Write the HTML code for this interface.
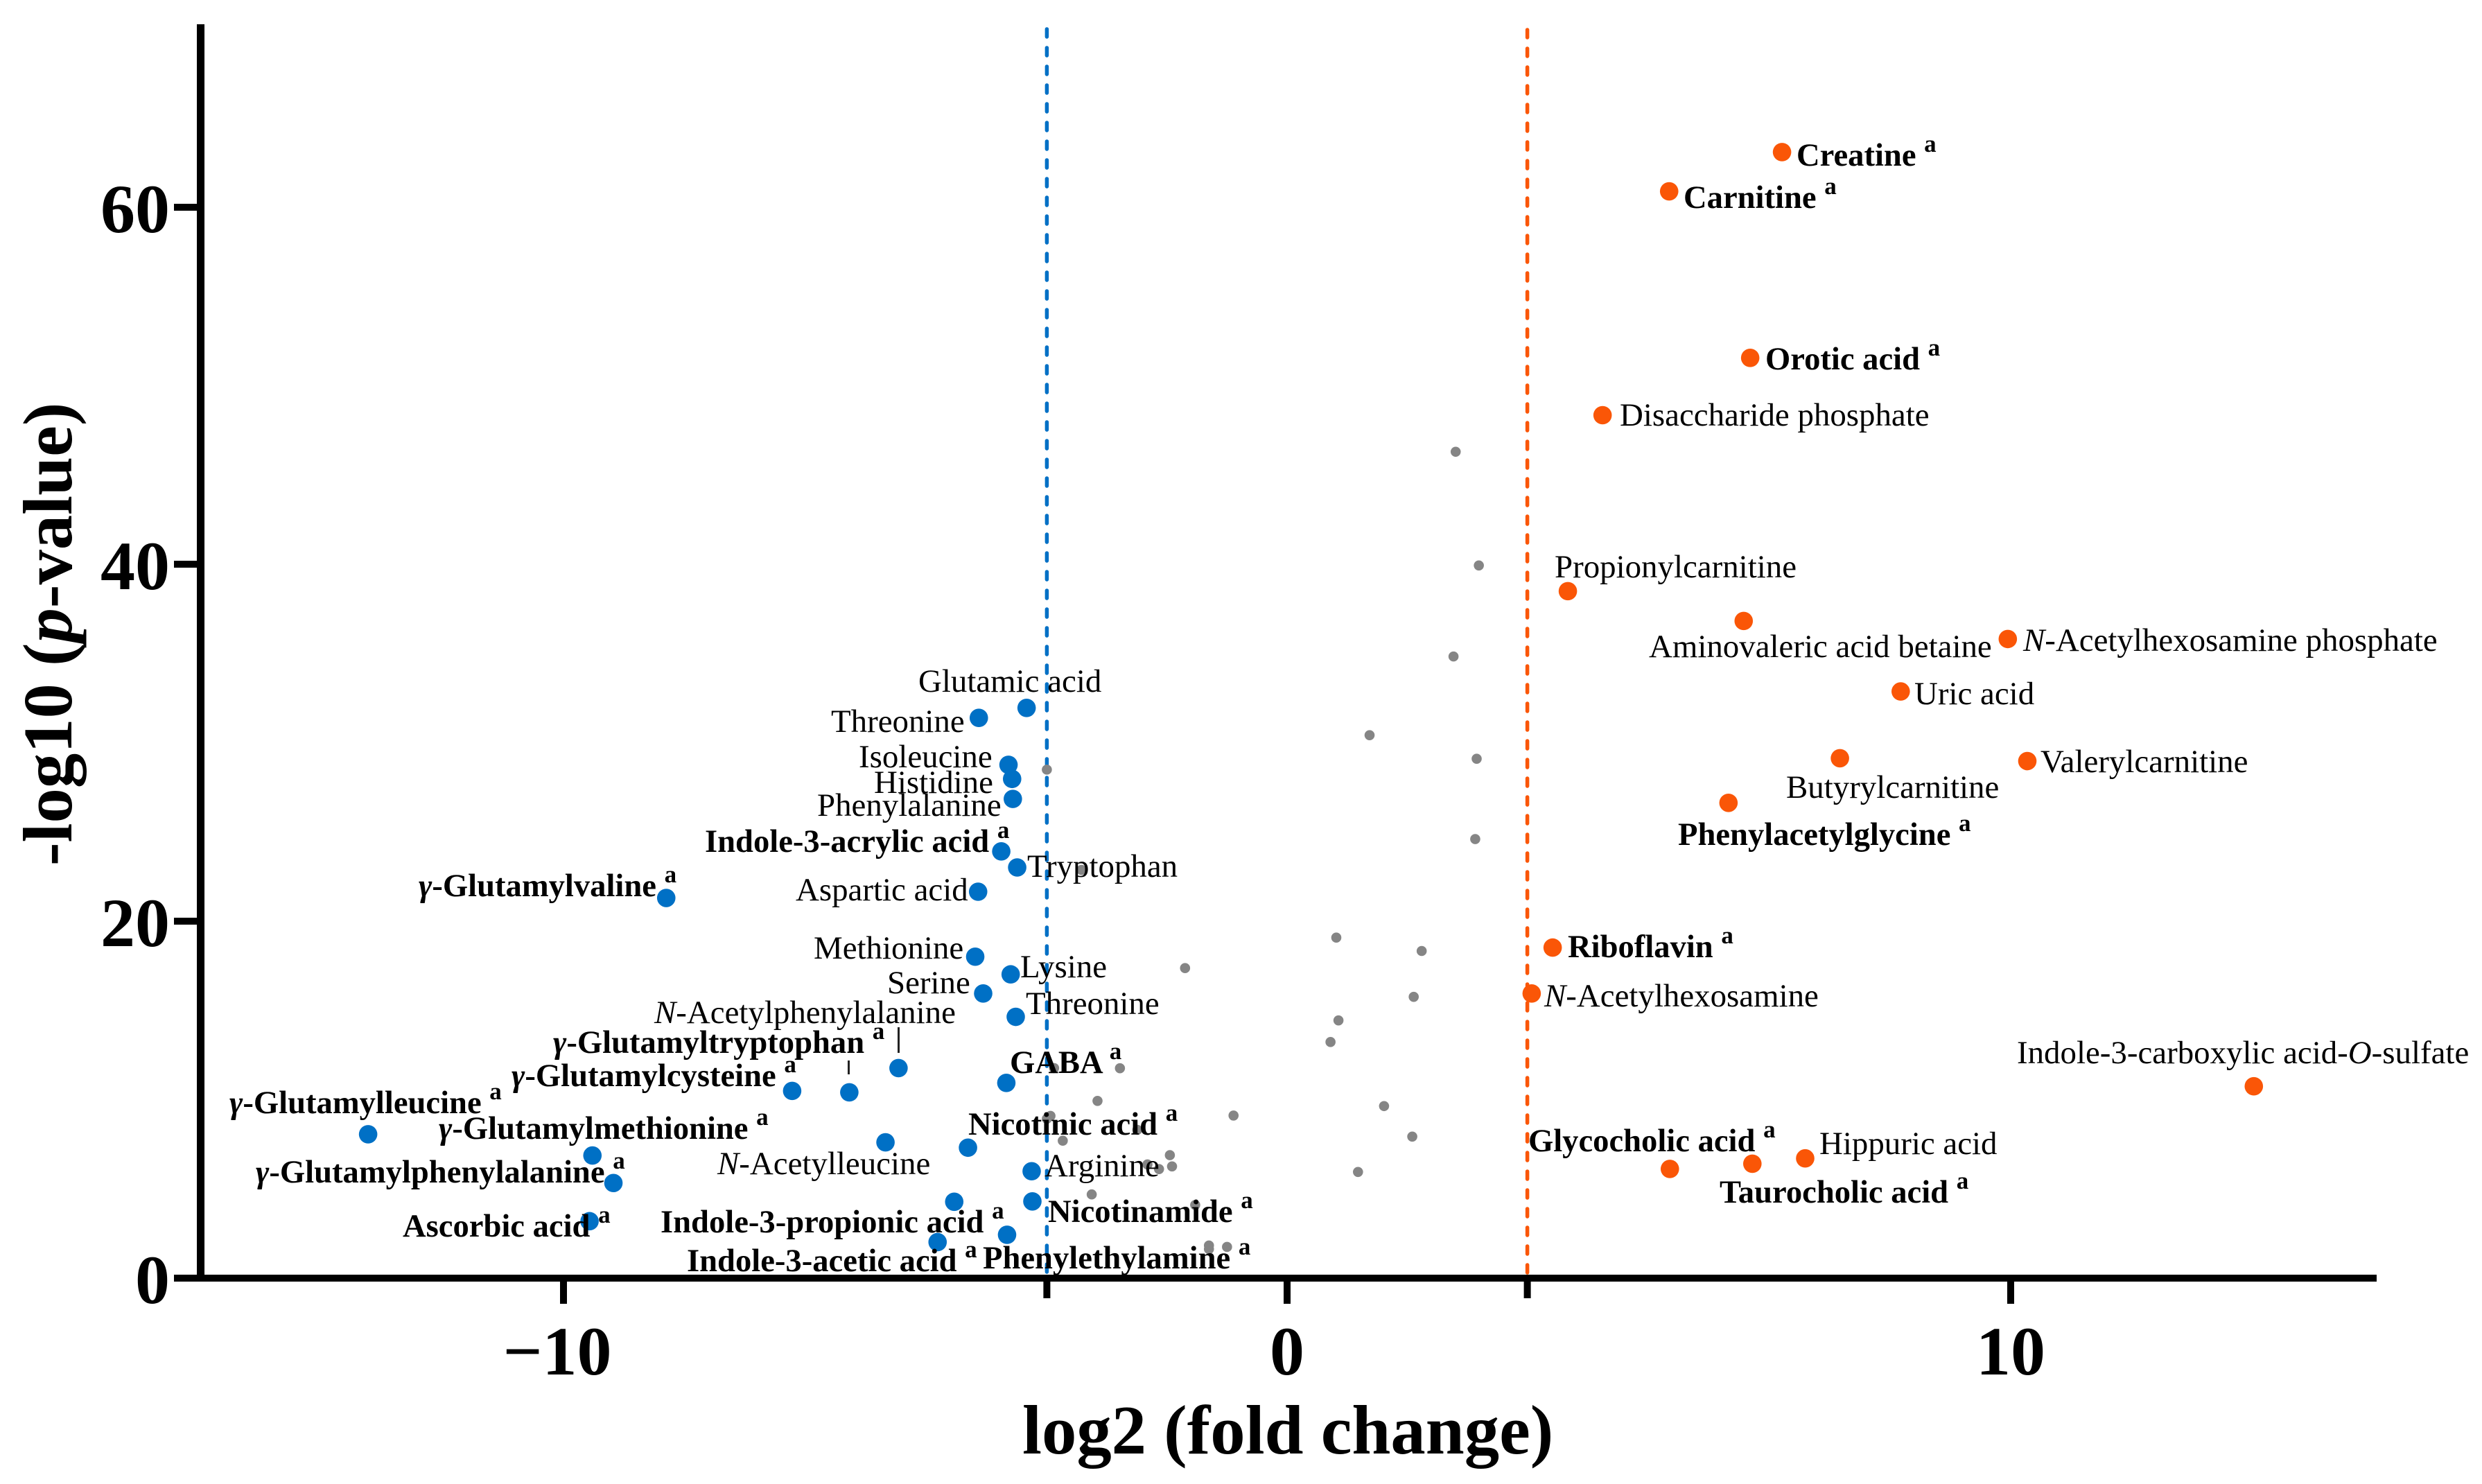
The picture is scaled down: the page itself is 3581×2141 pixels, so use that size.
<!DOCTYPE html>
<html lang="en">
<head>
<meta charset="utf-8">
<title>Volcano plot</title>
<style>
html,body{margin:0;padding:0;background:#fff;}
svg{display:block;}
text{font-family:"Liberation Serif","Times New Roman",serif;fill:#000;}
.l{font-size:46.9px;}
.b{font-size:46.6px;font-weight:700;}
.t{font-size:100px;font-weight:700;}
.tt{font-size:100.7px;font-weight:700;}
.i{font-style:italic;}
.s{font-size:35px;}
</style>
</head>
<body>
<svg id="chart" xmlns="http://www.w3.org/2000/svg" width="3581" height="2141" viewBox="0 0 3581 2141">
<rect width="3581" height="2141" fill="#fff"/>
<g id="thresholds"></g>
<g id="axes"></g>
<g id="marks"></g>

<line x1="1296.5" y1="1482" x2="1296.5" y2="1519" stroke="#222" stroke-width="3"/>
<line x1="1224.5" y1="1530" x2="1224.5" y2="1550" stroke="#222" stroke-width="3"/>

<text class="tt" x="1475" y="2097">log2 (fold change)</text>
<text class="tt" transform="translate(103 1249) rotate(-90)">-log10 (<tspan class="i">p</tspan>-value)</text>

<g>
<text class="l" x="1325" y="998">Glutamic acid</text>
<text class="l" x="1199" y="1056">Threonine</text>
<text class="l" x="1239" y="1107">Isoleucine</text>
<text class="l" x="1261" y="1144">Histidine</text>
<text class="l" x="1179" y="1177">Phenylalanine</text>
<text class="b" x="1017" y="1229">Indole-3-acrylic acid <tspan class="s" dy="-20">a</tspan></text>
<text class="l" x="1482" y="1265">Tryptophan</text>
<text class="l" x="1148" y="1299">Aspartic acid</text>
<text class="b" x="604" y="1293"><tspan class="i">γ</tspan>-Glutamylvaline <tspan class="s" dy="-20">a</tspan></text>
<text class="l" x="1174" y="1383">Methionine</text>
<text class="l" x="1472" y="1410">Lysine</text>
<text class="l" x="1280" y="1433">Serine</text>
<text class="l" x="1480" y="1463">Threonine</text>
<text class="l" x="944" y="1476"><tspan class="i">N</tspan>-Acetylphenylalanine</text>
<text class="b" x="798" y="1519"><tspan class="i">γ</tspan>-Glutamyltryptophan <tspan class="s" dy="-20">a</tspan></text>
<text class="b" x="738" y="1567"><tspan class="i">γ</tspan>-Glutamylcysteine <tspan class="s" dy="-20">a</tspan></text>
<text class="b" x="1457" y="1548">GABA <tspan class="s" dy="-20">a</tspan></text>
<text class="b" x="331" y="1606"><tspan class="i">γ</tspan>-Glutamylleucine <tspan class="s" dy="-20">a</tspan></text>
<text class="b" x="633" y="1643"><tspan class="i">γ</tspan>-Glutamylmethionine <tspan class="s" dy="-20">a</tspan></text>
<text class="b" x="1397" y="1637">Nicotinic acid <tspan class="s" dy="-20">a</tspan></text>
<text class="l" x="1035" y="1694"><tspan class="i">N</tspan>-Acetylleucine</text>
<text class="l" x="1507" y="1697">Arginine</text>
<text class="b" x="369" y="1706"><tspan class="i">γ</tspan>-Glutamylphenylalanine <tspan class="s" dy="-20">a</tspan></text>
<text class="b" x="1512" y="1763">Nicotinamide <tspan class="s" dy="-20">a</tspan></text>
<text class="b" x="953" y="1778">Indole-3-propionic acid <tspan class="s" dy="-20">a</tspan></text>
<text class="b" x="581" y="1784">Ascorbic acid <tspan class="s" dy="-20">a</tspan></text>
<text class="b" x="1418" y="1830">Phenylethylamine <tspan class="s" dy="-20">a</tspan></text>
<text class="b" x="991" y="1834">Indole-3-acetic acid <tspan class="s" dy="-20">a</tspan></text>
</g>

<g>
<text class="b" x="2592" y="239">Creatine <tspan class="s" dy="-20">a</tspan></text>
<text class="b" x="2429" y="300">Carnitine <tspan class="s" dy="-20">a</tspan></text>
<text class="b" x="2547" y="533">Orotic acid <tspan class="s" dy="-20">a</tspan></text>
<text class="l" x="2337" y="614">Disaccharide phosphate</text>
<text class="l" x="2243" y="833">Propionylcarnitine</text>
<text class="l" x="2379" y="948">Aminovaleric acid betaine</text>
<text class="l" x="2919" y="939"><tspan class="i">N</tspan>-Acetylhexosamine phosphate</text>
<text class="l" x="2762" y="1016">Uric acid</text>
<text class="l" x="2944" y="1114">Valerylcarnitine</text>
<text class="l" x="2577" y="1151">Butyrylcarnitine</text>
<text class="b" x="2421" y="1219">Phenylacetylglycine <tspan class="s" dy="-20">a</tspan></text>
<text class="b" x="2262" y="1381">Riboflavin <tspan class="s" dy="-20">a</tspan></text>
<text class="l" x="2228" y="1452"><tspan class="i">N</tspan>-Acetylhexosamine</text>
<text class="l" x="2910" y="1534">Indole-3-carboxylic acid-<tspan class="i">O</tspan>-sulfate</text>
<text class="b" x="2205" y="1661">Glycocholic acid <tspan class="s" dy="-20">a</tspan></text>
<text class="l" x="2625" y="1665">Hippuric acid</text>
<text class="b" x="2481" y="1735">Taurocholic acid <tspan class="s" dy="-20">a</tspan></text>
</g>
</svg>

<script>
// ---- data (log2 fold change, -log10 p) ----
const xTickValues = [-10, 0, 10];
const xTickLabels = ["\u221210", "0", "10"];
const yTickValues = [0, 20, 40, 60];
const yTickLabels = ["0", "20", "40", "60"];
const thresholdValues = [-3.32, 3.32];

const downX = [-3.60, -4.26, -3.85, -3.80, -3.79, -3.95, -3.73, -4.27, -8.58, -4.31, -3.82, -4.20, -3.75, -5.37, -6.84, -6.05, -3.88, -12.70, -9.60, -5.55, -4.41, -9.31, -3.53, -9.64, -4.60, -3.52, -4.83, -3.87];
const downY = [31.95, 31.39, 28.76, 27.97, 26.85, 23.91, 23.01, 21.65, 21.30, 18.01, 17.02, 15.95, 14.64, 11.77, 10.49, 10.41, 10.94, 8.06, 6.87, 7.61, 7.31, 5.33, 5.99, 3.19, 4.28, 4.30, 2.02, 2.43];

const upX = [6.84, 5.28, 6.40, 4.36, 3.88, 6.31, 9.96, 8.48, 7.64, 10.23, 6.10, 3.67, 3.38, 13.36, 5.29, 6.43, 7.16];
const upY = [63.09, 60.89, 51.56, 48.35, 38.49, 36.82, 35.81, 32.87, 29.13, 28.97, 26.63, 18.52, 15.95, 10.75, 6.12, 6.41, 6.71];

const nsX = [2.33, 2.65, 2.30, 1.14, 2.62, -3.32, 2.60, -2.84, 0.68, 1.86, -1.41, 1.75, 0.71, 0.60, -3.22, -2.31, -2.62, 1.34, -0.74, -3.27, -3.32, -2.07, -3.10, 1.73, -1.62, -1.93, -1.77, -1.59, 0.98, -2.70, -1.27, -1.08, -1.08, -0.83];
const nsY = [46.30, 39.93, 34.83, 30.42, 29.10, 28.49, 24.60, 22.87, 19.08, 18.33, 17.37, 15.76, 14.44, 13.23, 11.77, 11.76, 9.93, 9.64, 9.11, 9.09, 8.93, 8.31, 7.70, 7.93, 6.89, 6.37, 6.11, 6.26, 5.95, 4.69, 4.10, 1.83, 1.63, 1.75];

// ---- axis functions ----
function sx(v) { return 1857 + v * 104.4; }
function sy(v) { return 1844 - v * 25.75; }

const SVG_NS = "http://www.w3.org/2000/svg";
function make(tag, parent, props) {
  const el = document.createElementNS(SVG_NS, tag);
  for (const k in props) el.setAttribute(k, props[k]);
  parent.appendChild(el);
  return el;
}

const thresholdsG = document.getElementById("thresholds");
const axesG = document.getElementById("axes");
const marksG = document.getElementById("marks");
const thresholdColors = ["#0070C5", "#FA5607"];
const thresholdNames = ["threshold-line-down", "threshold-line-up"];

// threshold lines and their short ticks
thresholdValues.forEach(function (v, i) {
  const line = make("line", thresholdsG, {
    x1: sx(v), x2: sx(v), y1: i === 0 ? 42 : 43, y2: 1844,
    stroke: thresholdColors[i], "stroke-width": 5.5,
    "stroke-dasharray": "11 16", "stroke-linecap": "round"
  });
  
  
  const tick = make("rect", axesG, { x: sx(v) - 5, y: 1844, width: 10, height: 29, fill: "#000" });
  
  
});

// axis lines
const yAxisLine = make("rect", axesG, { x: 284, y: 35, width: 11, height: 1814, fill: "#000" });


const xAxisLine = make("rect", axesG, { x: 251, y: 1839, width: 3178, height: 10, fill: "#000" });



// x ticks
xTickValues.forEach(function (v, i) {
  const tick = make("rect", axesG, { x: sx(v) - 5, y: 1844, width: 10, height: 37, fill: "#000" });
  
  
  const label = make("text", axesG, { x: sx(v) - (v < 0 ? 9 : 0), y: 1983, "text-anchor": "middle", "class": "t" });
  label.textContent = xTickLabels[i];
  
  
});

// y ticks
yTickValues.forEach(function (v, i) {
  if (v !== 0) {
    const tick = make("rect", axesG, { x: 251, y: sy(v) - 5, width: 34, height: 10, fill: "#000" });
    
    
  }
  const label = make("text", axesG, { x: 245, y: sy(v) + 36, "text-anchor": "end", "class": "t" });
  label.textContent = yTickLabels[i];
  
  
});

// points
nsX.forEach(function (v, i) {
  const dot = make("circle", marksG, { cx: sx(v), cy: sy(nsY[i]), r: 7.3, fill: "#858585" });
  
  
});
downX.forEach(function (v, i) {
  const dot = make("circle", marksG, { cx: sx(v), cy: sy(downY[i]), r: 13.3, fill: "#0070C5" });
  
  
});
upX.forEach(function (v, i) {
  const dot = make("circle", marksG, { cx: sx(v), cy: sy(upY[i]), r: 13.3, fill: "#FA5607" });
  
  
});
</script>
</body>
</html>
